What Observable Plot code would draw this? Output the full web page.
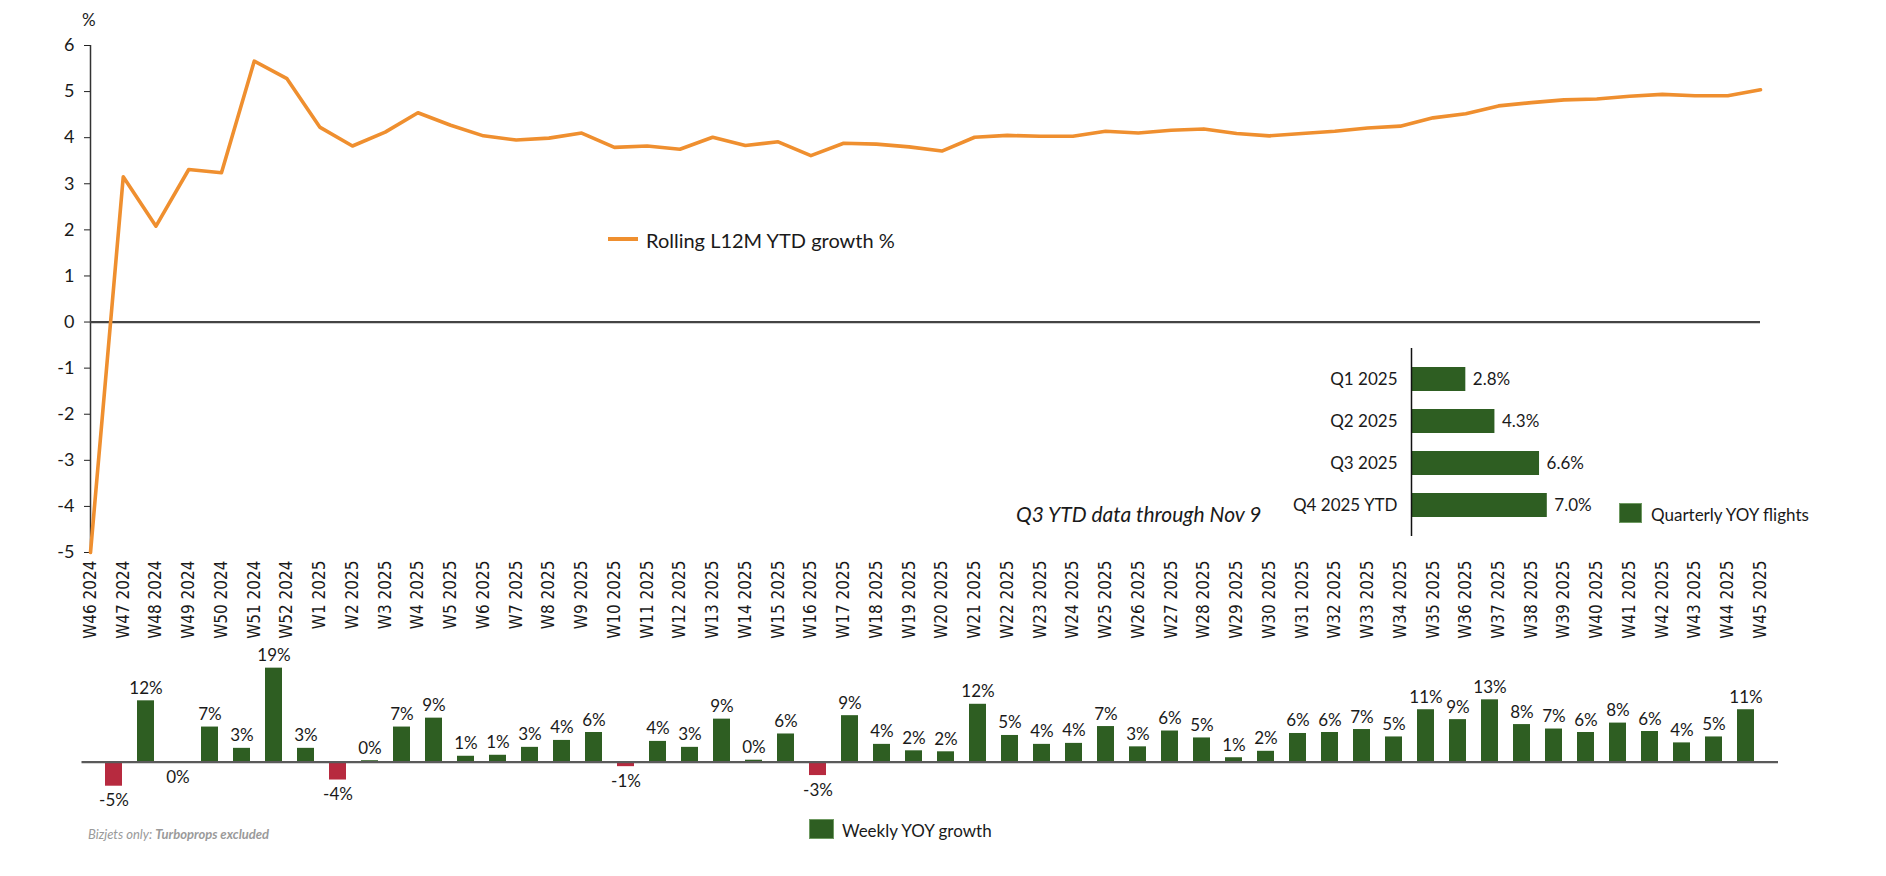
<!DOCTYPE html>
<html>
<head>
<meta charset="utf-8">
<script src="https://cdn.jsdelivr.net/npm/d3@7"></script>
<script src="https://cdn.jsdelivr.net/npm/@observablehq/plot@0.6"></script>
<style>
  html, body { margin: 0; padding: 0; background: #fff; }
  #root { position: relative; width: 1886px; height: 876px; overflow: hidden; font-family: Lato, "Open Sans", sans-serif; color: #1a1a1a; }
  .abs { position: absolute; }
  .txt { position: absolute; white-space: nowrap; transform: translateY(-50%); }
</style>
</head>
<body>
<div id="root"></div>
<script>
// ---- DATA ----
const weeks = ["W46 2024","W47 2024","W48 2024","W49 2024","W50 2024","W51 2024","W52 2024",
  "W1 2025","W2 2025","W3 2025","W4 2025","W5 2025","W6 2025","W7 2025","W8 2025","W9 2025","W10 2025",
  "W11 2025","W12 2025","W13 2025","W14 2025","W15 2025","W16 2025","W17 2025","W18 2025","W19 2025","W20 2025",
  "W21 2025","W22 2025","W23 2025","W24 2025","W25 2025","W26 2025","W27 2025","W28 2025","W29 2025","W30 2025",
  "W31 2025","W32 2025","W33 2025","W34 2025","W35 2025","W36 2025","W37 2025","W38 2025","W39 2025","W40 2025",
  "W41 2025","W42 2025","W43 2025","W44 2025","W45 2025"];
const rollingGrowth = [-5.0, 3.15, 2.08, 3.31, 3.24, 5.66, 5.28,
  4.23, 3.82, 4.12, 4.54, 4.27, 4.04, 3.95, 3.99, 4.10, 3.79,
  3.82, 3.75, 4.01, 3.83, 3.91, 3.61, 3.88, 3.86, 3.80, 3.71,
  4.01, 4.05, 4.03, 4.03, 4.14, 4.10, 4.16, 4.19, 4.09, 4.04,
  4.09, 4.14, 4.21, 4.25, 4.43, 4.52, 4.69, 4.76, 4.82, 4.84,
  4.90, 4.94, 4.91, 4.91, 5.04];
const weeklyGrowth = [-4.85, 12.4, -0.1, 7.1, 2.8, 19.0, 2.8,
  -3.6, 0.3, 7.1, 8.9, 1.2, 1.4, 3.0, 4.4, 6.0, -0.9,
  4.2, 3.0, 8.7, 0.4, 5.7, -2.7, 9.4, 3.6, 2.3, 2.1,
  11.7, 5.4, 3.6, 3.8, 7.2, 3.1, 6.3, 4.9, 0.9, 2.2,
  5.8, 6.0, 6.6, 5.1, 10.6, 8.6, 12.6, 7.6, 6.7, 6.0,
  7.9, 6.2, 3.9, 5.1, 10.6];
const quarters = ["Q1 2025", "Q2 2025", "Q3 2025", "Q4 2025 YTD"];
const quarterlyGrowth = [2.8, 4.3, 6.6, 7.0];
const yTicks = [-5, -4, -3, -2, -1, 0, 1, 2, 3, 4, 5, 6];

const ORANGE = "#ef8f2f", GREEN = "#2e5e22", RED = "#b72a3f";

const weekly = weeks.map((w, i) => ({week: w, rolling: rollingGrowth[i], weekly: weeklyGrowth[i]}));
const quarterly = quarters.map((q, i) => ({q, value: quarterlyGrowth[i]}));
const pct = v => `${Math.round(v) === 0 ? 0 : Math.round(v)}%`;

const root = document.getElementById("root");
function place(node, left, top) {
  const d = document.createElement("div");
  d.className = "abs"; d.style.left = left + "px"; d.style.top = top + "px";
  d.appendChild(node); root.appendChild(d); return d;
}
function text(html, left, top, style = "") {
  const d = document.createElement("div");
  d.className = "txt"; d.style.left = left + "px"; d.style.top = top + "px";
  d.style.cssText += style; d.innerHTML = html; root.appendChild(d); return d;
}

// ---- TOP LINE CHART ----
const topChart = Plot.plot({
  width: 1886, height: 690,
  marginLeft: 90, marginRight: 126, marginTop: 45, marginBottom: 138,
  style: {fontFamily: "Lato", fontSize: "17px", color: "#1a1a1a", background: "none"},
  x: {type: "point", domain: weeks, padding: 0, label: null},
  y: {domain: [-5, 6], label: null},
  marks: [
    Plot.axisY({ticks: yTicks, tickSize: 6, tickPadding: 10, tickFormat: d => String(d), fontSize: 18, label: null, stroke: "#222"}),
    Plot.axisX({tickSize: 0, tickPadding: 8, tickRotate: -90, fontSize: 17, fontFamily: "'DejaVu Sans Condensed', 'DejaVu Sans', sans-serif", label: null}),
    Plot.ruleX([weeks[0]], {y1: -5, y2: 6, stroke: "#333", strokeWidth: 1.5}),
    Plot.ruleY([0], {stroke: "#444", strokeWidth: 2.2}),
    Plot.line(weekly, {x: "week", y: "rolling", stroke: ORANGE, strokeWidth: 3.6, strokeLinejoin: "round"})
  ]
});
place(topChart, 0, 0);

// ---- QUARTERLY INSET BARS ----
const qChart = Plot.plot({
  width: 560, height: 200,
  marginLeft: 161, marginRight: 205, marginTop: 8, marginBottom: 4,
  style: {fontFamily: "Lato", fontSize: "17px", color: "#1a1a1a", background: "none"},
  x: {domain: [0, 10], axis: null},
  y: {type: "band", domain: quarters, padding: 0.43, label: null},
  marks: [
    Plot.barX(quarterly, {x: "value", y: "q", fill: GREEN}),
    Plot.text(quarterly, {x: "value", y: "q", text: d => d.value.toFixed(1) + "%", textAnchor: "start", dx: 7, fontSize: 17, fill: "#1a1a1a"}),
    Plot.axisY({tickSize: 0, tickPadding: 14, fontSize: 17, label: null}),
    Plot.ruleX([0], {stroke: "#111", strokeWidth: 1.5})
  ]
});
place(qChart, 1250, 340);

// ---- BOTTOM WEEKLY BARS ----
const bChart = Plot.plot({
  width: 1886, height: 190,
  marginLeft: 81.5, marginRight: 108, marginTop: 32.7, marginBottom: 28.6,
  style: {fontFamily: "Lato", fontSize: "17px", color: "#1a1a1a", background: "none"},
  x: {type: "band", domain: weeks, padding: 0.47, axis: null},
  y: {domain: [-6, 20], axis: null},
  marks: [
    Plot.barY(weekly, {x: "week", y: "weekly", fill: d => d.weekly < 0 ? RED : GREEN}),
    Plot.ruleY([0], {stroke: "#5a5a5a", strokeWidth: 2.2}),
    Plot.text(weekly.filter(d => d.weekly >= 0), {x: "week", y: "weekly", text: d => pct(d.weekly), lineAnchor: "bottom", dy: -7, fontSize: 17, fill: "#1a1a1a"}),
    Plot.text(weekly.filter(d => d.weekly < 0), {x: "week", y: "weekly", text: d => pct(d.weekly), lineAnchor: "top", dy: 8, fontSize: 17, fill: "#1a1a1a"})
  ]
});
place(bChart, 0, 630);

// ---- TEXT / LEGENDS ----
text("%", 82, 19, "font-size:17px;");
const sw1 = document.createElement("div");
sw1.className = "abs"; sw1.style.cssText += `left:608px;top:237px;width:30px;height:4px;background:${ORANGE};`;
root.appendChild(sw1);
text("Rolling L12M YTD growth %", 646, 240, "font-size:20px;");

text("Q3 YTD data through Nov 9", 1016, 513, "font-size:21px;font-style:italic;");
const sw2 = document.createElement("div");
sw2.className = "abs"; sw2.style.cssText += `left:1619px;top:503px;width:23px;height:20px;background:${GREEN};box-sizing:border-box;border:1px solid #6f9a62;`;
root.appendChild(sw2);
text("Quarterly YOY flights", 1651, 514, "font-size:17px;");

const sw3 = document.createElement("div");
sw3.className = "abs"; sw3.style.cssText += `left:809px;top:819px;width:25px;height:20px;background:${GREEN};box-sizing:border-box;border:1px solid #6f9a62;`;
root.appendChild(sw3);
text("Weekly YOY growth", 842, 830, "font-size:17px;");

text("Bizjets only: <b>Turboprops excluded</b>", 88, 834, "font-size:13px;font-style:italic;color:#9a9a9a;");
</script>
</body>
</html>
